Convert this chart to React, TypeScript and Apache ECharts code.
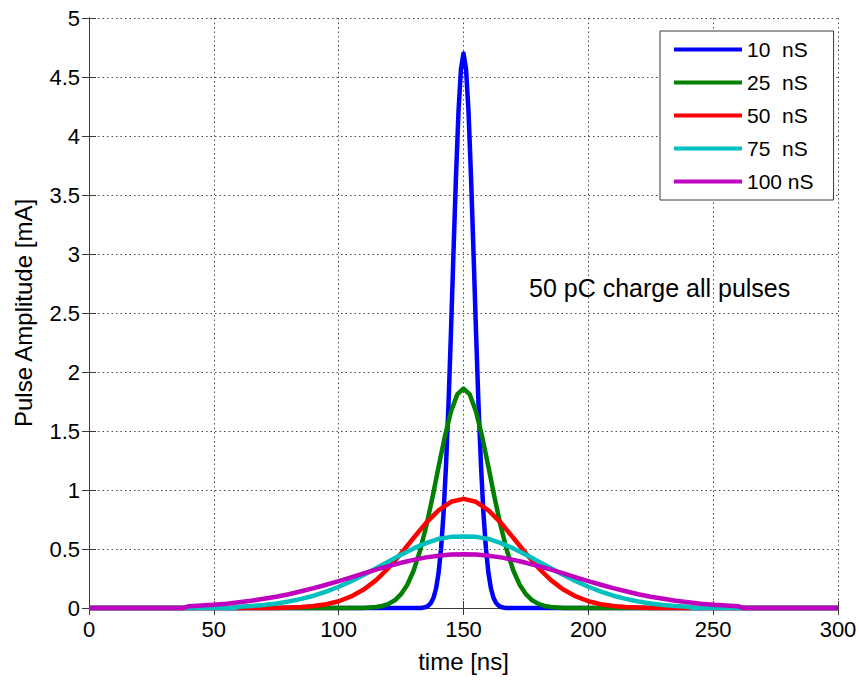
import React, { useEffect, useRef } from "react";
import * as echarts from "echarts";

// ---- data ----
const seriesNames = ["10  nS", "25  nS", "50  nS", "75  nS", "100 nS"];

const blueTime = [0, 133, 134, 135, 136, 137, 138, 139, 140, 141, 142, 143, 144, 145, 146, 147, 148, 149, 150, 151, 152, 153, 154, 155, 156, 157, 158, 159, 160, 161, 162, 163, 164, 165, 166, 167, 300];
const blueAmp = [0, 0, 0.004, 0.009, 0.021, 0.044, 0.087, 0.165, 0.295, 0.5, 0.8, 1.21, 1.73, 2.35, 3.02, 3.66, 4.21, 4.57, 4.7, 4.57, 4.21, 3.66, 3.02, 2.35, 1.73, 1.21, 0.8, 0.5, 0.295, 0.165, 0.087, 0.044, 0.021, 0.009, 0.004, 0, 0];

const greenTime = [0, 110, 112.5, 115, 117.5, 120, 122.5, 125, 127.5, 130, 132.5, 135, 137.5, 140, 142.5, 145, 147.5, 150, 152.5, 155, 157.5, 160, 162.5, 165, 167.5, 170, 172.5, 175, 177.5, 180, 182.5, 185, 187.5, 190, 300];
const greenAmp = [0, 0, 0.0035, 0.008, 0.017, 0.035, 0.065, 0.117, 0.197, 0.316, 0.479, 0.686, 0.93, 1.195, 1.45, 1.666, 1.81, 1.86, 1.81, 1.666, 1.45, 1.195, 0.93, 0.686, 0.479, 0.316, 0.197, 0.117, 0.065, 0.035, 0.017, 0.008, 0.0035, 0, 0];

const redTime = [0, 75, 80, 85, 90, 95, 100, 105, 110, 115, 120, 125, 130, 135, 140, 145, 150, 155, 160, 165, 170, 175, 180, 185, 190, 195, 200, 205, 210, 215, 220, 225, 300];
const redAmp = [0, 0, 0.004, 0.008, 0.017, 0.032, 0.057, 0.098, 0.156, 0.236, 0.34, 0.462, 0.593, 0.721, 0.828, 0.9, 0.925, 0.9, 0.828, 0.721, 0.593, 0.462, 0.34, 0.236, 0.156, 0.098, 0.057, 0.032, 0.017, 0.008, 0.004, 0, 0];

const cyanTime = [0, 58, 60, 65, 70, 75, 80, 85, 90, 95, 100, 105, 110, 115, 120, 125, 130, 135, 140, 145, 150, 155, 160, 165, 170, 175, 180, 185, 190, 195, 200, 205, 210, 215, 220, 225, 230, 235, 240, 242, 300];
const cyanAmp = [0, 0, 0.011, 0.017, 0.026, 0.038, 0.055, 0.077, 0.104, 0.139, 0.18, 0.227, 0.28, 0.337, 0.395, 0.452, 0.505, 0.55, 0.585, 0.603, 0.605, 0.603, 0.585, 0.55, 0.505, 0.452, 0.395, 0.337, 0.28, 0.227, 0.18, 0.139, 0.104, 0.077, 0.055, 0.038, 0.026, 0.017, 0.011, 0, 0];

const purpleTime = [0, 38, 40, 45, 50, 55, 60, 65, 70, 75, 80, 85, 90, 95, 100, 105, 110, 115, 120, 125, 130, 135, 140, 145, 150, 155, 160, 165, 170, 175, 180, 185, 190, 195, 200, 205, 210, 215, 220, 225, 230, 235, 240, 245, 250, 255, 260, 262, 300];
const purpleAmp = [0, 0, 0.015, 0.021, 0.028, 0.037, 0.049, 0.061, 0.078, 0.096, 0.117, 0.142, 0.168, 0.197, 0.228, 0.26, 0.293, 0.325, 0.355, 0.383, 0.408, 0.429, 0.443, 0.453, 0.455, 0.453, 0.443, 0.429, 0.408, 0.383, 0.355, 0.325, 0.293, 0.26, 0.228, 0.197, 0.168, 0.142, 0.117, 0.096, 0.078, 0.061, 0.049, 0.037, 0.028, 0.021, 0.015, 0, 0];

const annotation = "50 pC charge all pulses";
const xName = "time [ns]";
const yName = "Pulse Amplitude [mA]";

const zip = (t: number[], v: number[]) => t.map((x, i) => [x, v[i]]);

const FONT = "'Liberation Sans', Arial, Helvetica, sans-serif";

export default function App() {
  const ref = useRef<HTMLDivElement>(null);

  useEffect(() => {
    document.body.style.margin = "0";
    if (!ref.current) return;
    const chart = echarts.init(ref.current, null, { renderer: "svg" });

    const colors = ["#0000FF", "#008000", "#FF0000", "#00BFBF", "#BF00BF"];
    const datasets = [
      zip(blueTime, blueAmp),
      zip(greenTime, greenAmp),
      zip(redTime, redAmp),
      zip(cyanTime, cyanAmp),
      zip(purpleTime, purpleAmp),
    ];

    const axisLineStyle = { color: "#3a3a3a", width: 1 };
    const gridLine = { show: true, lineStyle: { color: "#4a4a4a", width: 1, type: [1.5, 3] as any } };

    chart.setOption({
      animation: false,
      backgroundColor: "#ffffff",
      textStyle: { fontFamily: FONT },
      grid: { left: 89, right: 21, top: 18, bottom: 77, containLabel: false, outerBoundsMode: "none" } as any,
      xAxis: [
        {
          type: "value",
          min: 0,
          max: 300,
          interval: 50,
          position: "bottom",
          name: xName,
          nameLocation: "middle",
          nameGap: 41,
          nameTextStyle: { fontSize: 24, color: "#000", fontFamily: FONT },
          axisLine: { show: true, lineStyle: axisLineStyle },
          axisTick: { show: true, inside: true, length: 7, lineStyle: axisLineStyle },
          axisLabel: { fontSize: 22, color: "#000", margin: 10, fontFamily: FONT },
          splitLine: gridLine,
        },
        {
          type: "value",
          min: 0,
          max: 300,
          interval: 50,
          position: "top",
          axisLine: { show: true, lineStyle: axisLineStyle },
          axisTick: { show: true, inside: true, length: 7, lineStyle: axisLineStyle },
          axisLabel: { show: false },
          splitLine: { show: false },
        },
      ],
      yAxis: [
        {
          type: "value",
          min: 0,
          max: 5,
          interval: 0.5,
          position: "left",
          name: yName,
          nameLocation: "middle",
          nameGap: 54,
          nameTextStyle: { fontSize: 24, color: "#000", fontFamily: FONT },
          axisLine: { show: true, lineStyle: axisLineStyle },
          axisTick: { show: true, inside: true, length: 7, lineStyle: axisLineStyle },
          axisLabel: { fontSize: 22, color: "#000", margin: 9, fontFamily: FONT },
          splitLine: gridLine,
        },
        {
          type: "value",
          min: 0,
          max: 5,
          interval: 0.5,
          position: "right",
          axisLine: { show: true, lineStyle: axisLineStyle },
          axisTick: { show: true, inside: true, length: 7, lineStyle: axisLineStyle },
          axisLabel: { show: false },
          splitLine: { show: false },
        },
      ],
      legend: {
        orient: "vertical",
        left: 660,
        top: 31,
        icon: "rect",
        itemWidth: 68,
        itemHeight: 4,
        itemGap: 12,
        itemTextGap: 10,
        padding: [8, 20, 8, 14],
        backgroundColor: "#ffffff",
        borderColor: "#3a3a3a",
        borderWidth: 1,
        borderRadius: 0,
        textStyle: { fontSize: 21, color: "#000", fontFamily: FONT },
        data: seriesNames,
      },
      graphic: [
        {
          type: "text",
          x: 529,
          y: 288,
          style: {
            text: annotation,
            fontSize: 25,
            fontFamily: FONT,
            fill: "#000",
            verticalAlign: "middle",
            textVerticalAlign: "middle",
          },
          z: 10,
        },
      ],
      series: seriesNames.map((name, i) => ({
        name,
        type: "line",
        xAxisIndex: 0,
        yAxisIndex: 0,
        data: datasets[i],
        showSymbol: false,
        symbol: "none",
        clip: false,
        smooth: false,
        color: colors[i],
        lineStyle: { color: colors[i], width: 4.5, join: "round" },
        emphasis: { disabled: true },
      })),
    });

    return () => chart.dispose();
  }, []);

  return <div ref={ref} style={{ width: 859, height: 685 }} />;
}
